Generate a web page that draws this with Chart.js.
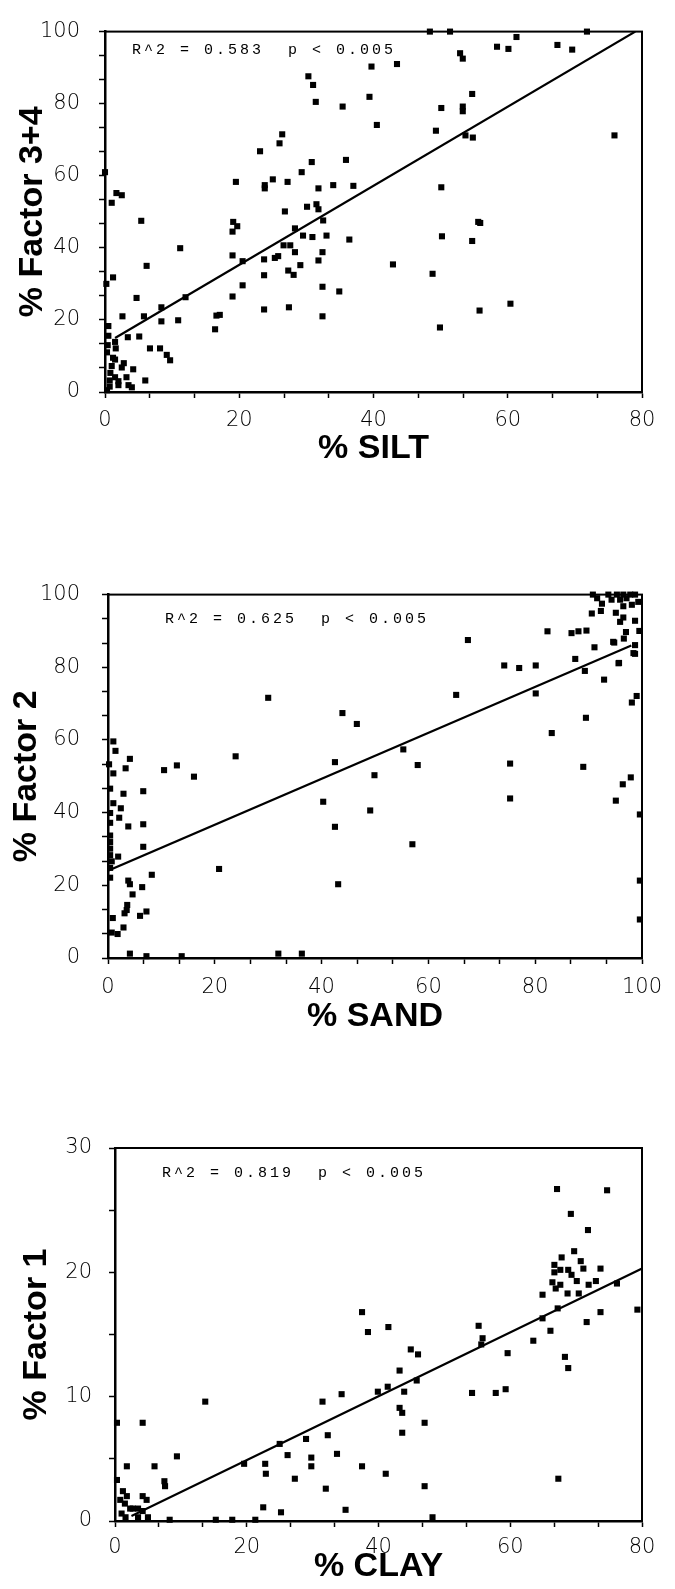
<!DOCTYPE html>
<html>
<head>
<meta charset="utf-8">
<script src="https://cdn.jsdelivr.net/npm/chart.js@4/dist/chart.umd.min.js"></script>
<style>
  html, body { margin: 0; padding: 0; background: #fff; overflow: hidden; }
  body { width: 675px; height: 1589px; position: relative; }
  .panel { position: absolute; left: 0; }
</style>
</head>
<body>
<div class="panel" style="top:0px"><canvas id="silt" width="675" height="480"></canvas></div>
<div class="panel" style="top:560px"><canvas id="sand" width="675" height="490"></canvas></div>
<div class="panel" style="top:1110px"><canvas id="clay" width="675" height="479"></canvas></div>
<script>
// ---- panel 1: % SILT vs % Factor 3+4
const siltX = [0.3,0.7,2.0,3.5,4.0,0.7,1.5,3.2,6.0,0.8,1.0,2.5,4.2,1.5,0.3,1.6,1.5,0.5,0.5,3.4,5.1,6.7,8.2,9.2,9.7,
  2.6,5.8,8.4,8.4,10.9,4.7,12.0,16.6,16.4,17.1,0.2,1.2,6.2,11.2,5.4,1.0,1.7,2.5,0.0,
  19.0,20.5,19.0,20.5,19.1,19.7,19.0,19.5,23.1,23.8,23.8,25.0,26.0,26.4,27.2,26.8,30.1,29.3,30.8,30.3,31.0,31.4,
  31.8,34.0,31.5,31.8,32.5,33.0,30.9,29.5,28.3,23.7,25.3,25.8,26.6,27.6,28.3,27.3,28.1,29.1,31.8,32.4,32.4,34.9,
  23.7,23.7,27.4,32.4,35.4,39.4,39.7,43.5,40.5,35.9,37.0,36.4,42.9,48.8,49.9,55.8,60.4,50.2,54.7,55.9,55.6,50.1,
  49.3,50.1,53.3,53.3,53.7,54.8,54.7,52.9,53.3,48.4,51.4,58.4,60.1,61.3,67.4,69.6,71.8,75.9,
  2.0,1.2,2.8,0.4];
const factor34Y = [0.5,1.5,1.9,1.9,1.3,3.2,4.1,4.1,3.2,5.3,7.2,6.8,6.3,9.0,11.0,12.1,13.9,15.6,18.3,15.2,15.4,12.1,12.1,10.3,8.8,
  21.0,21.0,23.5,19.6,19.9,26.1,26.3,21.2,17.4,21.4,30.0,31.8,35.0,39.9,47.5,52.5,55.2,54.6,61.0,
  26.5,29.6,37.9,36.3,47.2,46.0,44.5,58.3,66.8,57.4,56.5,59.0,69.0,71.5,58.3,50.1,51.4,61.0,63.8,87.6,85.2,80.5,
  56.5,57.4,52.1,50.7,47.6,43.4,43.0,43.4,45.4,36.8,37.2,37.7,40.7,40.7,38.8,33.7,32.5,35.2,36.5,38.8,29.2,27.9,
  32.4,22.9,23.5,21.0,79.2,81.9,90.3,91.0,74.1,64.4,57.2,42.3,35.4,32.8,17.9,22.6,24.5,43.2,41.9,46.9,47.2,56.8,
  72.5,78.8,79.2,77.9,71.2,70.6,82.7,94.0,92.5,100,100,95.8,95.2,98.5,96.3,95.0,100,71.2,
  3.0,9.5,8.0,13.0];
const siltFitX = [1.5, 79];
const siltFitY = [15, 100];

// ---- panel 2: % SAND vs % Factor 2
const sandX = [1.0,1.4,4.1,3.3,0.2,1.0,10.5,12.9,16.1,0.4,2.9,6.6,1.0,2.4,2.1,0.4,0.4,3.8,6.6,6.6,1.9,0.4,0.4,0.4,0.4,0.7,
  0.4,0.4,8.2,3.8,4.1,6.4,4.6,3.6,3.5,7.2,6.0,3.1,0.9,2.9,1.8,0.7,4.1,7.2,13.8,31.9,36.3,23.9,30.0,20.8,
  40.3,42.5,42.5,43.1,43.9,46.6,49.9,49.1,55.3,57.0,58.0,65.2,67.4,74.2,75.3,75.3,77.0,80.1,80.1,82.3,83.1,
  86.8,88.1,89.6,87.5,89.3,89.5,89.0,91.1,90.6,92.3,92.9,94.6,95.6,95.1,96.4,97.9,98.1,98.4,99.0,99.6,99.6,99.6,
  90.8,91.6,93.7,95.3,96.5,97.8,98.7,94.3,95.9,97.1,96.5,98.1,95.1,96.5,95.9,98.7,97.0,96.6,94.8,98.7,98.7,95.7,
  99.3,99.5,92.5];
const factor2Y = [59.6,57.0,54.8,52.2,53.3,50.8,51.7,53.0,49.9,46.6,45.2,45.9,42.6,41.2,38.6,39.9,37.2,36.2,36.8,30.6,27.9,33.7,31.9,30.1,28.3,26.6,
  24.8,22.1,22.9,21.3,20.3,19.5,17.5,14.6,13.2,12.8,11.6,12.3,11.0,8.4,6.6,7.0,1.2,0.5,0.5,1.2,1.2,55.5,71.6,24.5,
  43.0,53.9,36.1,20.3,67.4,64.4,50.3,40.6,57.4,31.3,53.1,72.4,87.5,80.5,53.5,43.9,79.8,80.5,72.8,89.9,61.9,
  89.4,89.9,90.1,82.3,79.0,66.1,52.6,85.5,94.8,95.5,76.6,87.0,81.1,43.3,47.8,49.7,70.3,83.9,72.1,39.5,21.3,10.6,
  100,99.0,100,100,100,100,100,98.6,98.6,99.0,96.8,97.2,95.0,93.7,92.5,92.8,89.7,87.9,86.8,86.1,83.7,81.2,
  98.0,90.0,97.5];
const sandFitX = [0, 98];
const sandFitY = [24, 86];

// ---- panel 3: % CLAY vs % Factor 1
const clayX = [0.3,4.2,13.7,1.8,6.0,9.4,7.5,7.6,0.3,1.2,0.8,1.5,2.3,4.2,4.8,2.7,3.5,4.2,1.0,1.6,3.5,5.0,1.8,8.3,15.3,17.8,21.3,
  19.6,22.8,22.9,22.5,25.0,25.2,26.2,27.3,29.0,29.8,29.8,32.0,32.3,31.5,33.7,34.4,35.0,37.5,37.5,38.4,39.9,41.1,41.5,
  41.4,43.2,43.2,43.6,43.6,43.9,44.9,46.0,45.8,47.0,47.0,48.2,
  54.2,55.2,55.8,55.6,57.8,59.3,59.6,63.5,64.9,64.9,66.1,67.1,74.7,69.2,71.8,69.7,67.8,66.7,66.7,67.6,68.8,69.3,
  70.7,71.1,70.1,73.7,66.4,66.9,67.6,68.7,70.4,71.9,73.0,76.2,67.2,73.7,71.6,79.3,68.3,68.8,67.3];
const factor1Y = [7.9,7.9,9.6,4.4,4.4,5.2,3.2,2.8,3.3,2.4,1.7,1.4,1.0,2.0,1.7,1.0,1.0,0.8,0.6,0.3,0.3,0.3,2.0,0.1,0.1,0.1,0.1,
  4.6,4.6,3.8,1.1,6.2,0.7,5.3,3.4,6.6,5.1,4.4,2.6,6.9,9.6,5.4,10.2,0.9,4.4,16.8,15.2,10.4,3.8,15.6,
  10.8,12.1,9.1,8.7,7.1,10.4,13.8,13.4,11.3,7.9,2.8,0.3,
  10.3,15.7,14.7,14.2,10.3,10.6,13.5,14.5,18.2,16.3,15.3,26.7,26.6,24.7,23.4,21.7,21.2,20.6,20.0,20.2,20.2,19.8,
  20.9,20.3,19.3,20.3,19.2,18.7,19.0,18.3,18.3,19.0,19.3,19.1,17.1,16.8,16.0,17.0,13.2,12.3,3.4];
const clayFitX = [2.5, 80];
const clayFitY = [0.4, 20.3];

const notes = ["R^2 = 0.583  p < 0.005", "R^2 = 0.625  p < 0.005", "R^2 = 0.819  p < 0.005"];

const tickFont = { family: '"DejaVu Sans", sans-serif', size: 21, weight: 200 };
const titleFont = { family: '"Liberation Sans", Arial, sans-serif', size: 34, weight: 'bold' };

// box around the plot area
const framePlugin = {
    id: 'frame',
    beforeDatasetsDraw(chart) {
        const a = chart.chartArea;
        const ctx = chart.ctx;
        ctx.save();
        ctx.strokeStyle = '#000';
        ctx.lineWidth = 2;
        ctx.strokeRect(a.left, a.top, a.right - a.left, a.bottom - a.top);
        ctx.restore();
    }
};

// the R^2 text in the top left corner
const notePlugin = {
    id: 'note',
    afterDraw(chart, args, opts) {
        const a = chart.chartArea;
        const ctx = chart.ctx;
        ctx.save();
        ctx.font = '15px "Liberation Mono", monospace';
        if ('letterSpacing' in ctx) ctx.letterSpacing = '3px';
        ctx.fillStyle = '#000';
        ctx.textBaseline = 'middle';
        ctx.fillText(opts.text, a.left + opts.dx, a.top + opts.dy);
        ctx.restore();
    }
};

function toPoints(xs, ys) {
    return xs.map((v, i) => ({ x: v, y: ys[i] }));
}

function isMajor(v, major) {
    return Math.abs(v / major - Math.round(v / major)) < 1e-6;
}

function makeChart(id, s) {
    const ctx = document.getElementById(id).getContext('2d');
    return new Chart(ctx, {
        type: 'scatter',
        data: {
            datasets: [
                {
                    data: toPoints(s.xs, s.ys),
                    pointStyle: 'rect',
                    pointRadius: 4.3,
                    backgroundColor: '#000',
                    borderWidth: 0,
                    clip: false
                },
                {
                    type: 'line',
                    data: toPoints(s.fitX, s.fitY),
                    borderColor: '#000',
                    borderWidth: 2.2,
                    pointRadius: 0,
                    fill: false
                }
            ]
        },
        options: {
            responsive: false,
            animation: false,
            devicePixelRatio: 1,
            layout: { padding: { top: s.padTop, right: 33, left: 0, bottom: 0 } },
            plugins: {
                legend: { display: false },
                tooltip: { enabled: false },
                note: { text: s.note, dx: s.noteDx, dy: s.noteDy }
            },
            scales: {
                x: {
                    type: 'linear',
                    min: 0,
                    max: s.xMax,
                    afterFit: scale => { scale.height = s.xAxisH; },
                    border: { color: '#000', width: 2.5 },
                    grid: { drawOnChartArea: false, tickLength: 6, tickColor: '#000', tickWidth: 1.5 },
                    ticks: {
                        stepSize: 20 / 3,
                        autoSkip: false,
                        maxRotation: 0,
                        color: '#000',
                        font: tickFont,
                        padding: s.xTickPad,
                        callback: v => isMajor(v, 20) ? String(Math.round(v)) : ''
                    },
                    title: { display: true, text: s.xTitle, color: '#000', font: titleFont, padding: { top: 0, bottom: s.xTitlePad } }
                },
                y: {
                    type: 'linear',
                    min: 0,
                    max: s.yMax,
                    afterFit: scale => { scale.width = s.yAxisW; },
                    border: { color: '#000', width: 2.5 },
                    grid: { drawOnChartArea: false, tickLength: 6, tickColor: '#000', tickWidth: 1.5 },
                    ticks: {
                        stepSize: s.yStep,
                        autoSkip: false,
                        color: '#000',
                        font: tickFont,
                        padding: s.yTickPad,
                        callback: v => isMajor(v, s.yMajor) ? String(Math.round(v)) : ''
                    },
                    title: { display: true, text: s.yTitle, color: '#000', font: titleFont, padding: { top: s.yTitlePad, bottom: 0 } }
                }
            }
        },
        plugins: [framePlugin, notePlugin]
    });
}

window.onload = () => {
    makeChart('silt', {
        xs: siltX, ys: factor34Y, fitX: siltFitX, fitY: siltFitY,
        xMax: 80, yMax: 100, yStep: 20 / 3, yMajor: 20,
        xTitle: '% SILT', yTitle: '% Factor 3+4',
        padTop: 17, xAxisH: 88, yAxisW: 105,
        xTickPad: 10, yTickPad: 19, xTitlePad: 10.6, yTitlePad: 12.6,
        note: notes[0], noteDx: 27, noteDy: 18
    });
    makeChart('sand', {
        xs: sandX, ys: factor2Y, fitX: sandFitX, fitY: sandFitY,
        xMax: 100, yMax: 100, yStep: 20 / 3, yMajor: 20,
        xTitle: '% SAND', yTitle: '% Factor 2',
        padTop: 23, xAxisH: 92, yAxisW: 108,
        xTickPad: 11, yTickPad: 22, xTitlePad: 12.6, yTitlePad: 6.6,
        note: notes[1], noteDx: 57, noteDy: 24
    });
    // this canvas ends exactly at the bottom of the page (1110 + 479 = 1589)
    makeChart('clay', {
        xs: clayX, ys: factor1Y, fitX: clayFitX, fitY: clayFitY,
        xMax: 80, yMax: 30, yStep: 5, yMajor: 10,
        xTitle: '% CLAY', yTitle: '% Factor 1',
        padTop: 38, xAxisH: 68, yAxisW: 115,
        xTickPad: 8, yTickPad: 17, xTitlePad: 2, yTitlePad: 16.6,
        note: notes[2], noteDx: 47, noteDy: 25
    });
};
</script>
</body>
</html>
